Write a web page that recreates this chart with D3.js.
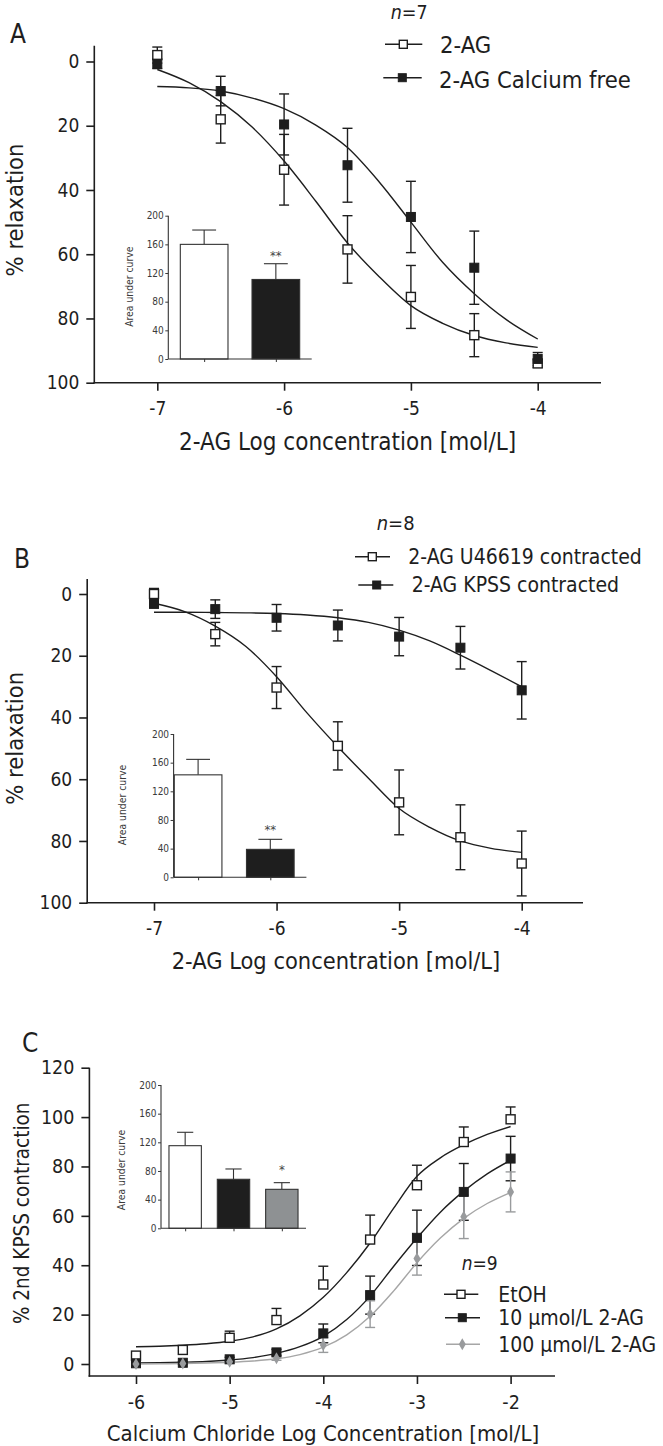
<!DOCTYPE html>
<html>
<head>
<meta charset="utf-8">
<script src="https://cdn.jsdelivr.net/npm/d3@7"></script>
<style>
  body { margin: 0; background: #fff; }
  svg { display: block; }
</style>
</head>
<body>
<script>
// ---------------- DATA ----------------
// Panel A
const concA = [-7, -6.5, -6, -5.5, -5, -4.5, -4];
const agMeanA = [-2.0, 18.0, 33.7, 58.5, 73.3, 85.2, 94.0];
const agSemA = [2.5, 7.4, 11.0, 10.5, 9.8, 6.7, 1.2];
const caFreeMeanA = [0.7, 9.2, 19.6, 32.3, 48.4, 64.2, 92.6];
const caFreeSemA = [1.5, 4.6, 9.5, 11.5, 11.1, 11.4, 2.0];
const fitConcAB = [-7, -6.75, -6.5, -6.25, -6, -5.75, -5.5, -5.25, -5, -4.75, -4.5, -4.25, -4];
const agFitA = [2.5, 6.6, 12.5, 20.5, 31.0, 43.5, 56.5, 67.0, 76.0, 81.5, 85.3, 87.6, 89.0];
const caFreeFitA = [7.8, 8.2, 9.2, 11.4, 14.7, 19.8, 26.8, 37.5, 50.0, 62.5, 72.3, 80.3, 86.4];
const legendA = ["2-AG", "2-AG Calcium free"];
const aucMeanA = [160, 111];
const aucSemA = [20, 22];
const aucSigA = ["", "**"];

// Panel B
const concB = [-7, -6.5, -6, -5.5, -5, -4.5, -4];
const u46MeanB = [0.0, 13.0, 30.3, 49.2, 67.5, 78.8, 87.3];
const u46SemB = [1.8, 3.8, 6.8, 7.8, 10.5, 10.5, 10.5];
const kpssMeanB = [3.2, 4.9, 7.7, 10.2, 13.8, 17.4, 31.2];
const kpssSemB = [1.2, 3.0, 4.3, 5.0, 6.2, 6.9, 9.3];
const u46FitB = [3.0, 5.7, 10.4, 17.0, 26.8, 38.6, 49.5, 59.7, 69.5, 75.6, 80.0, 82.4, 83.7];
const kpssFitB = [5.9, 5.9, 6.0, 6.1, 6.3, 6.8, 7.7, 9.2, 11.7, 15.2, 19.8, 24.8, 30.0];
const legendB = ["2-AG U46619 contracted", "2-AG KPSS contracted"];
const aucMeanB = [143, 39];
const aucSemB = [21.6, 14];
const aucSigB = ["", "**"];

// Panel C
const concC = [-6, -5.5, -5, -4.5, -4, -3.5, -3, -2.5, -2];
const etohMeanC = [3.4, 5.7, 10.6, 17.8, 32.2, 50.4, 72.4, 89.9, 99.1];
const etohSemC = [1.0, 1.5, 2.7, 4.7, 7.4, 9.9, 8.1, 6.1, 5.0];
const ag10MeanC = [0.3, 0.5, 1.9, 4.7, 12.4, 27.9, 51.1, 69.7, 83.2];
const ag10SemC = [0.5, 0.5, 0.8, 1.2, 3.8, 7.7, 11.2, 11.5, 9.0];
const ag100MeanC = [0.0, 0.2, 0.9, 2.3, 7.7, 20.2, 42.7, 59.6, 69.7];
const ag100SemC = [0.3, 0.3, 0.5, 0.8, 3.0, 5.4, 6.7, 8.8, 8.1];
const fitConcC = [-6, -5.75, -5.5, -5.25, -5, -4.75, -4.5, -4.25, -4, -3.75, -3.5, -3.25, -3, -2.75, -2.5, -2.25, -2];
const etohFitC = [7.0, 7.2, 7.6, 8.2, 9.2, 11.0, 14.2, 19.5, 27.0, 37.0, 49.0, 63.0, 76.0, 83.5, 88.8, 93.0, 96.2];
const ag10FitC = [0.4, 0.5, 0.7, 1.0, 1.6, 2.6, 4.3, 7.0, 11.2, 18.0, 27.5, 39.5, 51.0, 61.5, 70.0, 77.0, 82.5];
const ag100FitC = [0.0, 0.1, 0.2, 0.4, 0.7, 1.2, 2.1, 3.8, 6.8, 11.8, 19.3, 29.5, 41.0, 51.0, 59.0, 65.0, 69.5];
const legendC = ["EtOH", "10 \u03bcmol/L 2-AG", "100 \u03bcmol/L 2-AG"];
const aucMeanC = [115.3, 68.4, 54.4];
const aucSemC = [18.7, 14.4, 9.3];
const aucSigC = ["", "", "*"];

// Ticks and labels
const xTicksAB = [-7, -6, -5, -4];
const yTicksAB = [0, 20, 40, 60, 80, 100];
const xTicksC = [-6, -5, -4, -3, -2];
const yTicksC = [0, 20, 40, 60, 80, 100, 120];
const aucTicks = [0, 40, 80, 120, 160, 200];
const panelLetters = ["A", "B", "C"];
const nValues = ["7", "8", "9"];
const xTitles = ["2-AG Log concentration [mol/L]", "2-AG Log concentration [mol/L]", "Calcium Chloride Log Concentration [mol/L]"];
const yTitles = ["% relaxation", "% relaxation", "% 2nd KPSS contraction"];
const aucTitle = "Area under curve";

// ---------------- DRAWING ----------------
const FONT = '"DejaVu Sans Condensed","DejaVu Sans",sans-serif';
const INK = "#1e1e1e";
const GREY = "#999b9d";
const svg = d3.select("body").append("svg").attr("width", 663).attr("height", 1446);

function marker(g, type, cx, cy, color, size) {
  const s = size || 9;
  if (type === "open") {
    g.append("rect").attr("x", cx - s / 2).attr("y", cy - s / 2).attr("width", s).attr("height", s)
      .attr("fill", "#fff").attr("stroke", color).attr("stroke-width", 1.4);
  } else if (type === "filled") {
    g.append("rect").attr("x", cx - s / 2).attr("y", cy - s / 2).attr("width", s).attr("height", s)
      .attr("fill", color).attr("stroke", color).attr("stroke-width", 1);
  } else {
    g.append("path").attr("transform", `translate(${cx},${cy})`)
      .attr("d", d3.symbol(d3.symbolDiamond, 42)()).attr("fill", color);
  }
}

function styleAxis(ax, size, color) {
  ax.attr("font-family", FONT).attr("font-size", size);
  ax.selectAll("text").attr("fill", color);
  ax.selectAll(".tick line").attr("stroke", color);
}

function drawPanel(p) {
  const g = svg.append("g");
  const x = d3.scaleLinear().domain(p.xDom).range(p.xRange);
  const y = d3.scaleLinear().domain(p.yDom).range(p.yRange);

  // axes
  const ya = g.append("g").attr("transform", `translate(${p.axisX},0)`)
    .call(d3.axisLeft(y).tickValues(p.yTicks).tickSize(8).tickPadding(7).tickFormat(d => String(d)));
  ya.select(".domain").remove();
  styleAxis(ya, p.tickFont, INK);
  ya.selectAll(".tick line").attr("stroke-width", 1.6);
  g.append("line").attr("x1", p.axisX).attr("x2", p.axisX).attr("y1", p.axisTop).attr("y2", p.axisBottom + 0.8)
    .attr("stroke", INK).attr("stroke-width", 1.6);

  const xa = g.append("g").attr("transform", `translate(0,${p.axisBottom})`)
    .call(d3.axisBottom(x).tickValues(p.xTicks).tickSize(8).tickFormat(d => String(d)));
  xa.select(".domain").remove();
  styleAxis(xa, p.tickFont, INK);
  xa.selectAll(".tick line").attr("stroke-width", 1.6);
  xa.selectAll("text").attr("y", p.xLabelOff).attr("dy", "0.35em");
  g.append("line").attr("x1", p.axisX - 0.8).attr("x2", p.axisRight).attr("y1", p.axisBottom).attr("y2", p.axisBottom)
    .attr("stroke", INK).attr("stroke-width", 1.6);

  // titles
  g.append("text").attr("x", p.xTitle[0]).attr("y", p.xTitle[1]).attr("text-anchor", "middle")
    .attr("font-family", FONT).attr("font-size", p.titleFont).attr("fill", INK).text(p.xTitleText);
  g.append("text").attr("transform", `translate(${p.yTitle[0]},${p.yTitle[1]}) rotate(-90)`)
    .attr("text-anchor", "middle").attr("font-family", FONT).attr("font-size", p.yTitleFont)
    .attr("fill", INK).text(p.yTitleText);
  g.append("text").attr("x", p.letter[0]).attr("y", p.letter[1]).attr("font-family", FONT)
    .attr("font-size", 26).attr("fill", INK).text(p.letterText);
  const nt = g.append("text").attr("x", p.nPos[0]).attr("y", p.nPos[1]).attr("font-family", FONT)
    .attr("font-size", p.nFont).attr("fill", INK);
  nt.append("tspan").attr("font-style", "italic").text("n");
  nt.append("tspan").text("=" + p.nText);

  // inset
  drawInset(g, p.inset);

  // series
  const line = d3.line().x(d => x(d[0])).y(d => y(d[1])).curve(d3.curveMonotoneX);
  p.series.forEach(s => {
    const sg = g.append("g");
    s.conc.forEach((c, i) => {
      const m = s.mean[i], e = s.sem[i];
      const top = m + e, bot = s.upOnly ? m : m - e;
      sg.append("line").attr("x1", x(c)).attr("x2", x(c)).attr("y1", y(bot)).attr("y2", y(top))
        .attr("stroke", s.color).attr("stroke-width", 1.4);
      const caps = s.upOnly ? [top] : [top, bot];
      caps.forEach(v => sg.append("line").attr("x1", x(c) - 5).attr("x2", x(c) + 5)
        .attr("y1", y(v)).attr("y2", y(v)).attr("stroke", s.color).attr("stroke-width", 1.4));
    });
  });
  p.series.forEach(s => {
    g.append("path").datum(s.fitConc.map((c, i) => [c, s.fit[i]]))
      .attr("d", line).attr("fill", "none").attr("stroke", s.lineColor || s.color).attr("stroke-width", 1.4);
  });
  p.series.forEach(s => {
    s.conc.forEach((c, i) => marker(g, s.marker, x(c), y(s.mean[i]), s.color, s.size));
  });

  // legend
  p.legend.forEach((L, i) => {
    const s = p.series[i];
    g.append("line").attr("x1", L.x1).attr("x2", L.x2).attr("y1", L.y).attr("y2", L.y)
      .attr("stroke", s.lineColor || s.color).attr("stroke-width", 1.4);
    marker(g, s.marker, L.mx, L.y, s.color, 8);
    g.append("text").attr("x", L.tx).attr("y", L.base).attr("font-family", FONT)
      .attr("font-size", p.legendFont).attr("fill", INK).text(p.legendLabels[i]);
  });
}

function drawInset(g, q) {
  const ig = g.append("g");
  const y = d3.scaleLinear().domain([0, 200]).range([q.y0, q.y200]);
  const x = d3.scalePoint().domain(q.labels).range([q.bandStart, q.xEnd]).padding(0.5);
  const bw = x.step() * q.barFrac;
  const col = "#333";

  // bars
  q.means.forEach((m, i) => {
    const cx = x(q.labels[i]);
    const top = y(m + q.sems[i]);
    ig.append("line").attr("x1", cx).attr("x2", cx).attr("y1", y(m)).attr("y2", top)
      .attr("stroke", col).attr("stroke-width", 1.1);
    ig.append("line").attr("x1", cx - bw / 4).attr("x2", cx + bw / 4).attr("y1", top).attr("y2", top)
      .attr("stroke", col).attr("stroke-width", 1.1);
    ig.append("rect").attr("x", cx - bw / 2).attr("y", y(m)).attr("width", bw).attr("height", y(0) - y(m))
      .attr("fill", q.fills[i]).attr("stroke", col).attr("stroke-width", 1.1);
    if (q.sigs[i]) {
      ig.append("text").attr("x", cx).attr("y", top - q.sigGap).attr("text-anchor", "middle")
        .attr("font-family", FONT).attr("font-size", 13).attr("fill", "#444").text(q.sigs[i]);
    }
  });

  // axes
  const ya = ig.append("g").attr("transform", `translate(${q.axisX},0)`)
    .call(d3.axisLeft(y).tickValues(aucTicks).tickSize(3).tickPadding(1.5).tickFormat(d => String(d)));
  ya.select(".domain").remove();
  styleAxis(ya, 10, "#3a3a3a");
  ig.append("line").attr("x1", q.axisX).attr("x2", q.axisX).attr("y1", q.y200).attr("y2", q.y0)
    .attr("stroke", col).attr("stroke-width", 1.1);
  const xa = ig.append("g").attr("transform", `translate(0,${q.y0})`)
    .call(d3.axisBottom(x).tickSize(3).tickFormat(""));
  xa.select(".domain").remove();
  xa.selectAll(".tick line").attr("stroke", col);
  ig.append("line").attr("x1", q.axisX).attr("x2", q.xEnd).attr("y1", q.y0).attr("y2", q.y0)
    .attr("stroke", col).attr("stroke-width", 1.1);

  ig.append("text").attr("transform", `translate(${q.labelX},${q.labelY}) rotate(-90)`)
    .attr("text-anchor", "middle").attr("font-family", FONT).attr("font-size", 10.3)
    .attr("fill", "#3a3a3a").text(aucTitle);
}

// ---------- Panel A ----------
drawPanel({
  xDom: [-7, -4], xRange: [157.3, 537.7],
  yDom: [0, 100], yRange: [61.5, 382.7],
  axisX: 94.3, axisTop: 45.7, axisBottom: 382.7, axisRight: 601,
  xTicks: xTicksAB, yTicks: yTicksAB, tickFont: 19, xLabelOff: 25.5,
  xTitleText: xTitles[0], xTitle: [347.6, 450], titleFont: 24,
  yTitleText: yTitles[0], yTitle: [22.5, 210], yTitleFont: 23.5,
  letterText: panelLetters[0], letter: [10, 43.3],
  nText: nValues[0], nPos: [390.7, 18.5], nFont: 19.5,
  legendLabels: legendA, legendFont: 23.6,
  legend: [
    { y: 44.3, x1: 385, x2: 422.3, mx: 403.3, tx: 440, base: 53.3 },
    { y: 77.7, x1: 383.3, x2: 421.7, mx: 402.3, tx: 439, base: 88.3 }
  ],
  series: [
    { conc: concA, mean: agMeanA, sem: agSemA, fitConc: fitConcAB, fit: agFitA, marker: "open", color: INK },
    { conc: concA, mean: caFreeMeanA, sem: caFreeSemA, fitConc: fitConcAB, fit: caFreeFitA, marker: "filled", color: INK }
  ],
  inset: {
    labels: legendA, means: aucMeanA, sems: aucSemA, sigs: aucSigA, fills: ["#fff", "#1e1e1e"],
    axisX: 168.3, y0: 359, y200: 215.7, bandStart: 168.3, xEnd: 311.7, barFrac: 0.665,
    labelX: 133, labelY: 286.7, sigGap: 3.5
  }
});

// ---------- Panel B ----------
drawPanel({
  xDom: [-7, -4], xRange: [154, 521.7],
  yDom: [0, 100], yRange: [594, 902.7],
  axisX: 87.2, axisTop: 579, axisBottom: 902.7, axisRight: 583,
  xTicks: xTicksAB, yTicks: yTicksAB, tickFont: 19, xLabelOff: 25.5,
  xTitleText: xTitles[1], xTitle: [336, 969], titleFont: 23.4,
  yTitleText: yTitles[1], yTitle: [22.5, 738.3], yTitleFont: 23.5,
  letterText: panelLetters[1], letter: [14, 568.3],
  nText: nValues[1], nPos: [376.7, 530], nFont: 20,
  legendLabels: legendB, legendFont: 21,
  legend: [
    { y: 556.7, x1: 355, x2: 390, mx: 372.3, tx: 408.3, base: 564 },
    { y: 585, x1: 358.3, x2: 393.3, mx: 376.7, tx: 411.7, base: 592.3 }
  ],
  series: [
    { conc: concB, mean: u46MeanB, sem: u46SemB, fitConc: fitConcAB, fit: u46FitB, marker: "open", color: INK },
    { conc: concB, mean: kpssMeanB, sem: kpssSemB, fitConc: fitConcAB, fit: kpssFitB, marker: "filled", color: INK }
  ],
  inset: {
    labels: legendB, means: aucMeanB, sems: aucSemB, sigs: aucSigB, fills: ["#fff", "#1e1e1e"],
    axisX: 173.6, y0: 877.3, y200: 734, bandStart: 162, xEnd: 306.4, barFrac: 0.66,
    labelX: 126, labelY: 805, sigGap: 5
  }
});

// ---------- Panel C ----------
drawPanel({
  xDom: [-6, -2], xRange: [136, 510.6],
  yDom: [0, 120], yRange: [1364, 1067.7],
  axisX: 89.4, axisTop: 1067.7, axisBottom: 1376, axisRight: 555,
  xTicks: xTicksC, yTicks: yTicksC, tickFont: 19.5, xLabelOff: 25.7,
  xTitleText: xTitles[2], xTitle: [323, 1441], titleFont: 22,
  yTitleText: yTitles[2], yTitle: [28.5, 1213.3], yTitleFont: 20.5,
  letterText: panelLetters[2], letter: [22, 1051.7],
  nText: nValues[2], nPos: [461.7, 1270], nFont: 19,
  legendLabels: legendC, legendFont: 21,
  legend: [
    { y: 1294.3, x1: 444, x2: 478.3, mx: 461, tx: 498.3, base: 1301.7 },
    { y: 1317.7, x1: 445, x2: 480, mx: 462.3, tx: 498.3, base: 1325 },
    { y: 1344.3, x1: 446, x2: 480, mx: 462.3, tx: 498.3, base: 1351.5 }
  ],
  series: [
    { conc: concC, mean: etohMeanC, sem: etohSemC, fitConc: fitConcC, fit: etohFitC, marker: "open", color: INK, upOnly: true },
    { conc: concC, mean: ag10MeanC, sem: ag10SemC, fitConc: fitConcC, fit: ag10FitC, marker: "filled", color: INK },
    { conc: concC, mean: ag100MeanC, sem: ag100SemC, fitConc: fitConcC, fit: ag100FitC, marker: "diamond", color: GREY, lineColor: "#a6a6a6" }
  ],
  inset: {
    labels: legendC, means: aucMeanC, sems: aucSemC, sigs: aucSigC, fills: ["#fff", "#1e1e1e", "#8e9193"],
    axisX: 161, y0: 1228.3, y200: 1085, bandStart: 161, xEnd: 306, barFrac: 0.67,
    labelX: 124.5, labelY: 1170, sigGap: 9
  }
});
</script>
</body>
</html>
